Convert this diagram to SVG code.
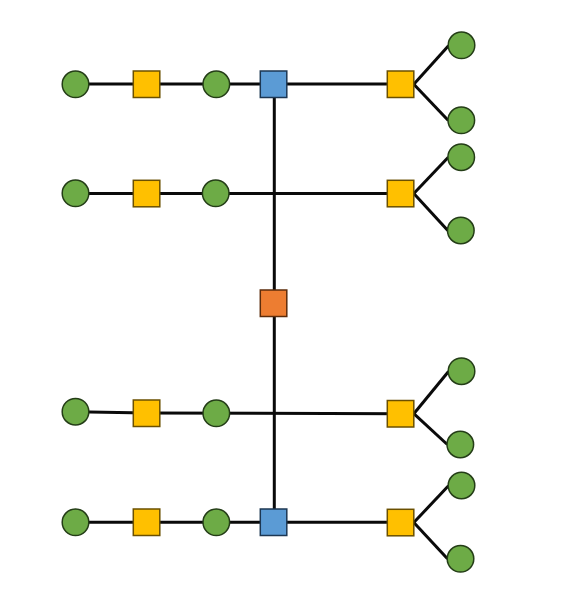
<svg xmlns="http://www.w3.org/2000/svg" width="569" height="612" viewBox="0 0 569 612">
<style>
.e{stroke:#0a0a0a;stroke-width:3;fill:none}
.c{fill:#6dab46;stroke:#243d17;stroke-width:1.5}
.y{fill:#ffc000;stroke:#6b5000;stroke-width:1.5}
.b{fill:#5b9bd5;stroke:#1c3753;stroke-width:1.5}
.o{fill:#ed7d31;stroke:#5c2c0b;stroke-width:1.5}
</style>
<rect width="569" height="612" fill="#fff"/>
<g id="connectors">
<line class="e" x1="75" y1="84" x2="274" y2="84"/>
<line class="e" x1="274" y1="84" x2="401" y2="84"/>
<line class="e" x1="413.8" y1="84.3" x2="448.5" y2="45.8"/>
<line class="e" x1="413.8" y1="84.3" x2="448.3" y2="120.5"/>
<line class="e" x1="75" y1="193.5" x2="401" y2="193.5"/>
<line class="e" x1="413.8" y1="193.5" x2="448.3" y2="157.3"/>
<line class="e" x1="413.8" y1="193.5" x2="447.8" y2="230.5"/>
<line class="e" x1="274.3" y1="84" x2="274.3" y2="522"/>
<line class="e" x1="75.5" y1="411.7" x2="146.5" y2="413"/>
<line class="e" x1="146.5" y1="413" x2="401" y2="413.7"/>
<line class="e" x1="413.8" y1="413.7" x2="448.5" y2="371.5"/>
<line class="e" x1="413.8" y1="413.7" x2="447.3" y2="444.5"/>
<line class="e" x1="75" y1="522.3" x2="401" y2="522.3"/>
<line class="e" x1="413.8" y1="522.5" x2="448.5" y2="485.8"/>
<line class="e" x1="413.8" y1="522.5" x2="447.5" y2="558.8"/>
</g>
<g id="n1"><circle class="c" cx="75.5" cy="84.3" r="13.3"/></g>
<g id="n2"><rect class="y" x="133.3" y="71" width="26.5" height="26.5"/></g>
<g id="n3"><circle class="c" cx="216.3" cy="84.3" r="13.3"/></g>
<g id="n4"><rect class="b" x="260.3" y="71" width="26.5" height="26.5"/></g>
<g id="n5"><rect class="y" x="387.3" y="71" width="26.5" height="26.5"/></g>
<g id="n6"><circle class="c" cx="461.5" cy="45.3" r="13.3"/></g>
<g id="n7"><circle class="c" cx="461.3" cy="120.3" r="13.3"/></g>
<g id="n8"><circle class="c" cx="75.5" cy="193.3" r="13.3"/></g>
<g id="n9"><rect class="y" x="133.3" y="180.3" width="26.5" height="26.5"/></g>
<g id="n10"><circle class="c" cx="215.7" cy="193.3" r="13.3"/></g>
<g id="n11"><rect class="y" x="387.3" y="180.3" width="26.5" height="26.5"/></g>
<g id="n12"><circle class="c" cx="461.2" cy="157.2" r="13.3"/></g>
<g id="n13"><circle class="c" cx="460.8" cy="230.5" r="13.3"/></g>
<g id="n14"><rect class="o" x="260.3" y="290" width="26.5" height="26.5"/></g>
<g id="n15"><circle class="c" cx="75.5" cy="411.7" r="13.3"/></g>
<g id="n16"><rect class="y" x="133.3" y="400" width="26.5" height="26.5"/></g>
<g id="n17"><circle class="c" cx="216.3" cy="413.3" r="13.3"/></g>
<g id="n18"><rect class="y" x="387.3" y="400.5" width="26.5" height="26.5"/></g>
<g id="n19"><circle class="c" cx="461.5" cy="371.2" r="13.3"/></g>
<g id="n20"><circle class="c" cx="460.3" cy="444.5" r="13.3"/></g>
<g id="n21"><circle class="c" cx="75.5" cy="522.3" r="13.3"/></g>
<g id="n22"><rect class="y" x="133.3" y="509" width="26.5" height="26.5"/></g>
<g id="n23"><circle class="c" cx="216.3" cy="522.3" r="13.3"/></g>
<g id="n24"><rect class="b" x="260.3" y="509" width="26.5" height="26.5"/></g>
<g id="n25"><rect class="y" x="387.3" y="509.3" width="26.5" height="26.5"/></g>
<g id="n26"><circle class="c" cx="461.5" cy="485.5" r="13.3"/></g>
<g id="n27"><circle class="c" cx="460.5" cy="558.8" r="13.3"/></g>
</svg>
